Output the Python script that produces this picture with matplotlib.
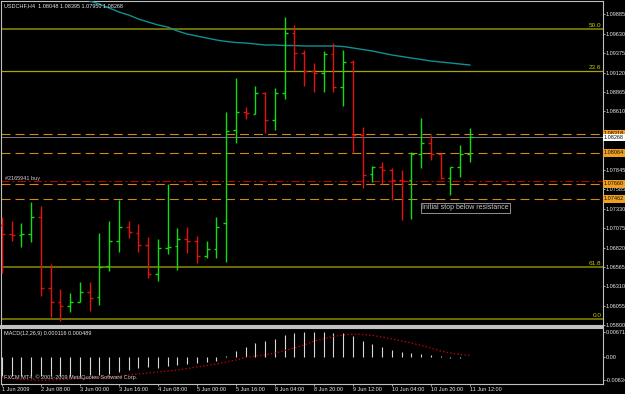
import numpy as np
import matplotlib
matplotlib.use("Agg")
import matplotlib.pyplot as plt
from matplotlib.transforms import blended_transform_factory

plt.rcParams['font.family'] = ['Liberation Sans', 'DejaVu Sans']
plt.rcParams['lines.scale_dashes'] = False

W, H = 625, 394

# USDCHF H4 bars, 1 Jun 2009 16:00 .. 11 Jun 12:00
opens = [1.07118, 1.06999, 1.06986, 1.06999, 1.07223, 1.06290, 1.06106, 1.06054, 1.06106, 1.06238,
         1.06172, 1.06579, 1.06907, 1.07091, 1.07013, 1.06855, 1.06474, 1.06816, 1.06842, 1.06934,
         1.06907, 1.06710, 1.06802, 1.07144, 1.08365, 1.08602, 1.08576, 1.08851, 1.08497, 1.08851,
         1.09640, 1.09377, 1.09140, 1.09114, 1.09364, 1.08930, 1.09259, 1.08300, 1.07788, 1.07880,
         1.07840, 1.07709, 1.07709, 1.08050, 1.08195, 1.08050, 1.07735, 1.07880, 1.08048]
highs = [1.07223, 1.07170, 1.07144, 1.07420, 1.07367, 1.06605, 1.06277, 1.06224, 1.06369, 1.06369,
         1.07013, 1.07170, 1.07446, 1.07170, 1.07131, 1.06960, 1.06934, 1.07656, 1.07078, 1.07091,
         1.06973, 1.06907, 1.07223, 1.08602, 1.09049, 1.08668, 1.08943, 1.08865, 1.08917, 1.09850,
         1.09745, 1.09416, 1.09246, 1.09403, 1.09508, 1.09416, 1.09285, 1.08405, 1.07893, 1.07945,
         1.07866, 1.07840, 1.08077, 1.08523, 1.08300, 1.08063, 1.07880, 1.08168, 1.08395]
lows = [1.06487, 1.06907, 1.06829, 1.06894, 1.06185, 1.05909, 1.05857, 1.05975, 1.06100, 1.05988,
        1.06067, 1.06513, 1.06763, 1.06947, 1.06763, 1.06421, 1.06382, 1.06737, 1.06527, 1.06750,
        1.06619, 1.06684, 1.06684, 1.06632, 1.08195, 1.08510, 1.08570, 1.08326, 1.08365, 1.08773,
        1.09154, 1.08943, 1.08865, 1.08865, 1.08865, 1.08681, 1.08063, 1.07604, 1.07682, 1.07656,
        1.07446, 1.07183, 1.07196, 1.07866, 1.07971, 1.07722, 1.07512, 1.07748, 1.07950]
closes = [1.06999, 1.06986, 1.06999, 1.07223, 1.06290, 1.06106, 1.06054, 1.06106, 1.06238, 1.06159,
          1.06566, 1.06907, 1.07091, 1.07026, 1.06855, 1.06474, 1.06816, 1.06829, 1.06934, 1.06907,
          1.06710, 1.06802, 1.07091, 1.08352, 1.08602, 1.08589, 1.08851, 1.08497, 1.08851, 1.09640,
          1.09377, 1.09140, 1.09114, 1.09364, 1.08930, 1.09259, 1.08300, 1.07774, 1.07880, 1.07840,
          1.07709, 1.07696, 1.08050, 1.08195, 1.08050, 1.07735, 1.07880, 1.08050, 1.08268]

# moving average, visible from bar 9 on
ma_start = 9
ma_values = [1.10060, 1.10020, 1.09968, 1.09915, 1.09876, 1.09823, 1.09784, 1.09745, 1.09718, 1.09666,
             1.09626, 1.09600, 1.09574, 1.09548, 1.09528, 1.09515, 1.09508, 1.09495, 1.09482, 1.09482,
             1.09475, 1.09475, 1.09469, 1.09469, 1.09469, 1.09469, 1.09462, 1.09443, 1.09423, 1.09403,
             1.09377, 1.09351, 1.09331, 1.09311, 1.09292, 1.09272, 1.09259, 1.09246, 1.09232, 1.09219]

macd_main = [-0.00500, -0.00500, -0.00500, -0.00500, -0.00500, -0.00500, -0.00500, -0.00500, -0.00500, -0.00486,
             -0.00473, -0.00459, -0.00405, -0.00338, -0.00284, -0.00270, -0.00284, -0.00243, -0.00203, -0.00189,
             -0.00162, -0.00135, -0.00108, 0.00027, 0.00162, 0.00257, 0.00365, 0.00419, 0.00486, 0.00594,
             0.00635, 0.00662, 0.00671, 0.00668, 0.00648, 0.00648, 0.00554, 0.00419, 0.00338, 0.00257,
             0.00176, 0.00122, 0.00095, 0.00081, 0.00054, 0.00027, -0.00019, -0.00027, 0.000116]
macd_signal = [-0.00540, -0.00581, -0.00608, -0.00621, -0.00634, -0.00621, -0.00608, -0.00594, -0.00581, -0.00567,
               -0.00554, -0.00540, -0.00513, -0.00486, -0.00459, -0.00432, -0.00405, -0.00378, -0.00351, -0.00311,
               -0.00270, -0.00230, -0.00189, -0.00135, -0.00081, -0.00014, 0.00027, 0.00054, 0.00108, 0.00176,
               0.00243, 0.00324, 0.00432, 0.00486, 0.00554, 0.00594, 0.00621, 0.00608, 0.00581, 0.00540,
               0.00486, 0.00432, 0.00378, 0.00311, 0.00243, 0.00162, 0.00108, 0.00068, 0.000489]

time_labels = ["1 Jun 2009", "2 Jun 08:00", "3 Jun 00:00", "3 Jun 16:00", "4 Jun 08:00", "5 Jun 00:00",
               "5 Jun 16:00", "8 Jun 04:00", "8 Jun 20:00", "9 Jun 12:00", "10 Jun 04:00",
               "10 Jun 20:00", "11 Jun 12:00"]
# 1.08355 and 1.08100 sit under the order price boxes, so they get no label
price_ticks = [1.09885, 1.09630, 1.09375, 1.09120, 1.08865, 1.08610, 1.07845,
               1.07585, 1.07330, 1.07075, 1.06820, 1.06565, 1.06310, 1.06055, 1.05800]
macd_ticks = [0.00671, 0.0, -0.00634]
macd_tick_labels = ["0.00671", "0.00", "-0.00634"]

fib_levels = [1.09692, 1.09140, 1.06566, 1.05883]
fib_labels = ["50.0", "23.6", "61.8", "0.0"]
fib_colors = ['#707000', '#a8a800', '#808000', '#808000']
fib_widths = [1.4, 0.9, 1.2, 1.2]
order_levels = [1.08318, 1.08064, 1.07660, 1.07462]
order_open = 1.07696
bid = 1.08268

fig = plt.figure(figsize=(W / 100, H / 100), dpi=100, facecolor='black')

def px_box(left, top, right, bottom):
    return [left / W, 1 - bottom / H, (right - left) / W, (bottom - top) / H]

ax = fig.add_axes(px_box(0.5, 1, 603, 326), facecolor='black')
ax2 = fig.add_axes(px_box(0.5, 328, 603, 384), facecolor='black')

x = np.arange(len(opens))
up = np.array(closes) >= np.array(opens)
cols = np.where(up, '#10dd10', '#e41010')
ax.vlines(x, lows, highs, colors=cols, lw=1.0, zorder=4)
ax.hlines(opens, x - 0.3, x, colors=cols, lw=1.0, zorder=4)
ax.hlines(closes, x, x + 0.3, colors=cols, lw=1.0, zorder=4)

ax.plot(np.arange(ma_start, ma_start + len(ma_values)), ma_values, color='#109090', lw=1.0, zorder=3)

for lvl, lab, c, w in zip(fib_levels, fib_labels, fib_colors, fib_widths):
    ax.axhline(lvl, color=c, lw=w, zorder=2)
    ax.text(61.5, lvl + 0.00008, lab, color='#c8c800', fontsize=4.6, ha='right', va='bottom')

for lvl in order_levels:
    ax.axhline(lvl, color='#d08a10', lw=0.8, linestyle=(0, (6.5, 3.6)), zorder=2)
ax.axhline(order_open, color='#c00000', lw=0.8, linestyle=(0, (5.8, 2.2, 1.4, 2.2)), zorder=2)
ax.axhline(bid, color='#909090', lw=0.6, zorder=2)

ax.text(0.3, 1.07735, "#2165941 buy", color='#d0d0d0', fontsize=4, va='center', ha='left')
ax.text(43.1, 1.07341, "Initial stop below resistance", color='#c8c8c8', fontsize=5, va='center', ha='left',
        bbox=dict(boxstyle='square,pad=0.2', fc='none', ec='#909090', lw=0.7))

ax.set_xlim(-0.15, 61.65)
ax.set_ylim(1.05791, 1.10060)
ax.set_xticks([])
ax.yaxis.tick_right()
ax.set_yticks(price_ticks, ["%.5f" % p for p in price_ticks])
ax.tick_params(axis='y', length=1.5, width=0.6, colors='#c0c0c0', labelcolor='#e8e8e8', labelsize=4, pad=0.6)

tr = blended_transform_factory(fig.transFigure, ax.transData)
for lvl in order_levels:
    ax.text(604 / W, lvl, "%.5f" % lvl, transform=tr, fontsize=4, color='#101010', va='center', ha='left',
            clip_on=False, zorder=6, bbox=dict(boxstyle='square,pad=0.25', fc='#f0a020', ec='none'))
ax.text(604 / W, bid - 0.00004, "%.5f" % bid, transform=tr, fontsize=4, color='#101010', va='center', ha='left',
        clip_on=False, zorder=6, bbox=dict(boxstyle='square,pad=0.2', fc='white', ec='none'))

ax2.vlines(x, 0, macd_main, colors='#d8d8d8', lw=0.8)
ax2.plot(x, macd_signal, color='#d00000', lw=0.9, linestyle=(0, (1.0, 1.6)))
ax2.set_xlim(-0.15, 61.65)
ax2.set_ylim(-0.00729, 0.00783)
ax2.yaxis.tick_right()
ax2.set_yticks(macd_ticks, macd_tick_labels)
ax2.tick_params(axis='y', length=1.5, width=0.6, colors='#c0c0c0', labelcolor='#e8e8e8', labelsize=4, pad=0.6)
ax2.set_xticks(np.arange(0, len(opens), 4), time_labels, ha='left')
ax2.tick_params(axis='x', length=1.5, width=0.6, colors='#c0c0c0', labelcolor='#e8e8e8', labelsize=4, pad=0.6)

for a in (ax, ax2):
    for s in a.spines.values():
        s.set_color('#c0c0c0')
        s.set_linewidth(0.8)
ax.spines['bottom'].set_linewidth(1.5)
ax2.spines['top'].set_linewidth(1.5)

fig.text(4 / W, 1 - 6 / H, "USDCHF,H4  1.08048 1.08395 1.07950 1.08268", color='#e8e8e8', fontsize=4, va='center')
fig.text(4 / W, 1 - 334 / H, "MACD(12,26,9) 0.000116 0.000489", color='#e8e8e8', fontsize=4, va='center')
fig.text(4 / W, 1 - 377.5 / H, "FXCM MT4, \u00a9 2001-2009 MetaQuotes Software Corp.", color='#d0d0d0',
         fontsize=4, va='center')

fig.savefig("out.png", dpi=100, facecolor='black')
